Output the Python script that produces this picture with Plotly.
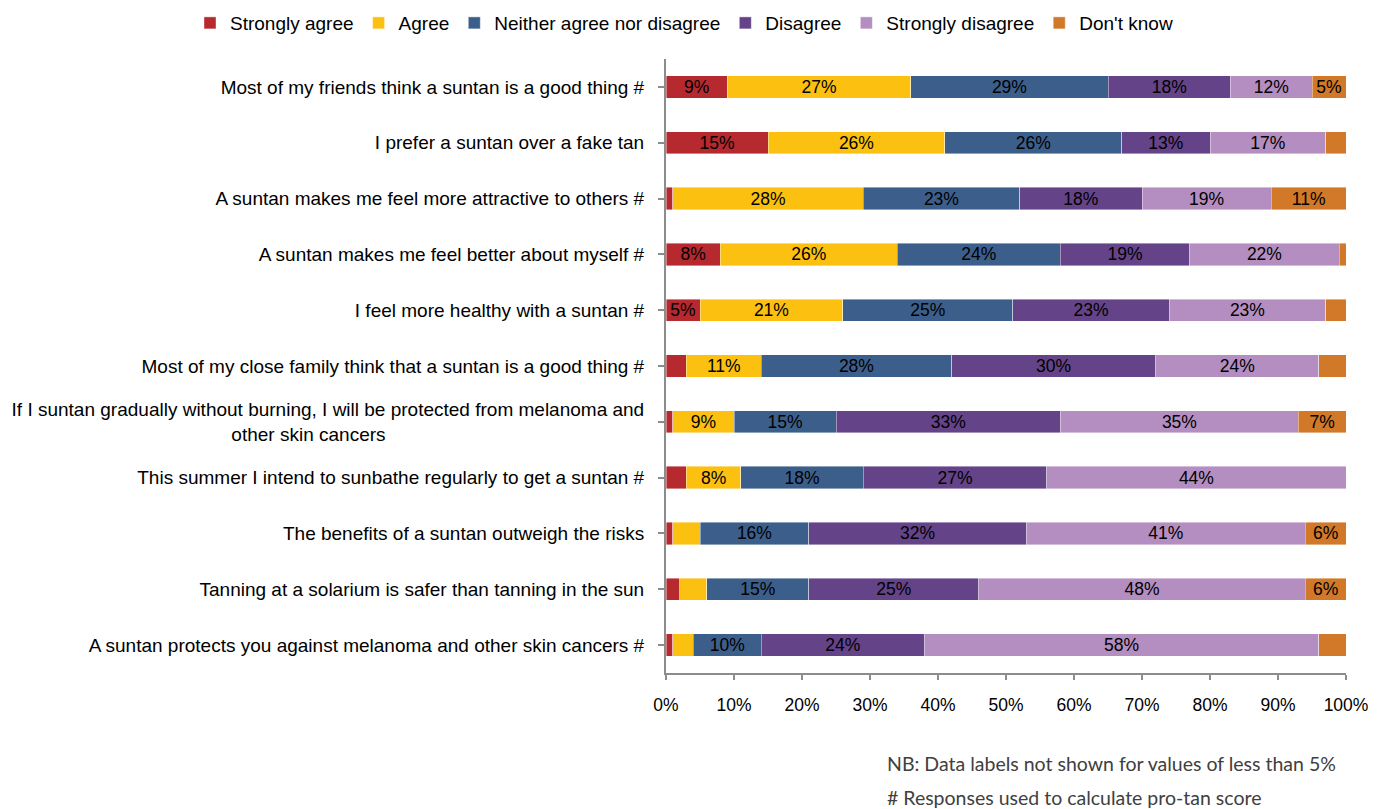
import plotly.graph_objects as go

categories = [
    "Most of my friends think a suntan is a good thing #",
    "I prefer a suntan over a fake tan",
    "A suntan makes me feel more attractive to others #",
    "A suntan makes me feel better about myself #",
    "I feel more healthy with a suntan #",
    "Most of my close family think that a suntan is a good thing #",
    "If I suntan gradually without burning, I will be protected from melanoma and<br>other skin cancers",
    "This summer I intend to sunbathe regularly to get a suntan #",
    "The benefits of a suntan outweigh the risks",
    "Tanning at a solarium is safer than tanning in the sun",
    "A suntan protects you against melanoma and other skin cancers #",
]

strongly_agree = [9, 15, 1, 8, 5, 3, 1, 3, 1, 2, 1]
agree = [27, 26, 28, 26, 21, 11, 9, 8, 4, 4, 3]
neither = [29, 26, 23, 24, 25, 28, 15, 18, 16, 15, 10]
disagree = [18, 13, 18, 19, 23, 30, 33, 27, 32, 25, 24]
strongly_disagree = [12, 17, 19, 22, 23, 24, 35, 44, 41, 48, 58]
dont_know = [5, 3, 11, 1, 3, 4, 7, 0, 6, 6, 4]

series_names = ["Strongly agree", "Agree", "Neither agree nor disagree",
                "Disagree", "Strongly disagree", "Don't know"]
series_values = [strongly_agree, agree, neither, disagree, strongly_disagree, dont_know]
colors = ["#B5292F", "#FCC011", "#3C5E8B", "#644388", "#B48EC0", "#D17829"]

x_ticks = list(range(0, 101, 10))
x_ticktext = [f"{t}%" for t in x_ticks]


def centre_second_line(label):
    # pad the second line so it appears centred under the first (labels are right-anchored)
    if "<br>" not in label:
        return label
    first, second = label.split("<br>")
    pad = int(round((len(first) - len(second)) * 0.85))
    return first + "<br>" + second + "\u00a0" * pad


ticktext = [centre_second_line(c) for c in categories]
ids = list(range(len(categories)))

FONT = "Liberation Sans, Arial"

fig = go.Figure()
for name, vals, col in zip(series_names, series_values, colors):
    fig.add_trace(go.Bar(
        y=ids, x=vals, name=name, orientation="h",
        marker=dict(color=col, line=dict(color="rgba(255,255,255,0.7)", width=0.6)),
        text=[f"{v}%" if v >= 5 else "" for v in vals],
        textposition="inside", insidetextanchor="middle", textangle=0,
        textfont=dict(family=FONT, size=17.5, color="black"),
        hoverinfo="skip",
    ))

fig.update_layout(
    barmode="stack",
    bargap=0.6,
    width=1376, height=801,
    margin=dict(l=658, r=38, t=51, b=136, autoexpand=False),
    paper_bgcolor="white", plot_bgcolor="white",
    font=dict(family=FONT, size=17, color="black"),
    uniformtext=dict(mode="show", minsize=17.5),
    legend=dict(orientation="h", xref="paper", yref="paper",
                x=-0.700, xanchor="left", y=1.0586, yanchor="middle",
                font=dict(size=19), traceorder="normal", itemwidth=30),
    xaxis=dict(range=[0, 100], tickvals=x_ticks, ticktext=x_ticktext,
               showgrid=False, zeroline=False, showline=True, linecolor="#8C8C8C", linewidth=2,
               ticks="outside", ticklen=5, tickcolor="#8C8C8C", tickwidth=1.5,
               tickfont=dict(size=17.5), ticklabelstandoff=10),
    yaxis=dict(tickvals=ids, ticktext=ticktext, autorange="reversed",
               showgrid=False, zeroline=False, showline=True, linecolor="#8C8C8C", linewidth=2,
               ticks="outside", ticklen=6, tickcolor="#8C8C8C", tickwidth=1.5, tickson="boundaries",
               tickfont=dict(size=19), ticklabelstandoff=10),
    annotations=[
        dict(text="NB: Data labels not shown for values of less than 5%", xref="paper", yref="paper",
             x=0.322, y=-0.1466, xanchor="left", yanchor="middle", showarrow=False,
             font=dict(family="Lato", size=19.5, color="#404040")),
        dict(text="# Responses used to calculate pro-tan score", xref="paper", yref="paper",
             x=0.322, y=-0.202, xanchor="left", yanchor="middle", showarrow=False,
             font=dict(family="Lato", size=19.5, color="#404040")),
    ],
)

fig.write_html("out.html")
